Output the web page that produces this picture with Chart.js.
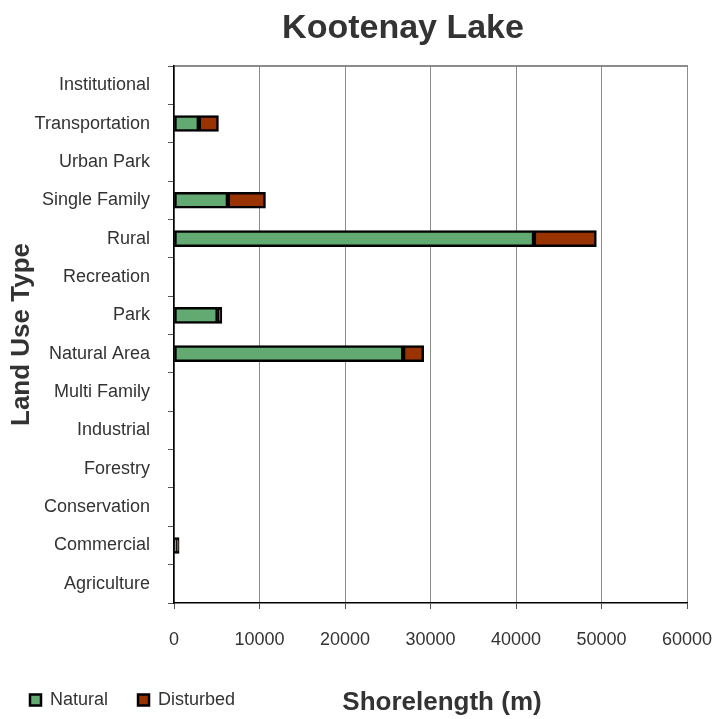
<!DOCTYPE html>
<html>
<head>
<meta charset="utf-8">
<script src="https://cdn.jsdelivr.net/npm/chart.js@4.4.1/dist/chart.umd.min.js"></script>
<style>
  html, body { margin: 0; padding: 0; background: #fff; }
  #wrap { width: 713px; height: 719px; }
</style>
</head>
<body>
<div id="wrap"><canvas id="chart"></canvas></div>
<script>
// === Data (bottom to top) ===
const categories = ['Agriculture', 'Commercial', 'Conservation', 'Forestry', 'Industrial',
  'Multi Family', 'Natural Area', 'Park', 'Recreation', 'Rural', 'Single Family',
  'Urban Park', 'Transportation', 'Institutional'];
const natural   = [0, 300, 0, 0, 0, 0, 26800, 5100, 0, 42100, 6300, 0, 2900, 0];
const disturbed = [0, 300, 0, 0, 0, 0, 2400, 500, 0, 7300, 4400, 0, 2300, 0];
const xTicks = [0, 10000, 20000, 30000, 40000, 50000, 60000];

const chartTitle = 'Kootenay Lake';
const xTitle = 'Shorelength (m)';
const yTitle = 'Land Use Type';

const FONT = "'Liberation Sans', Arial, sans-serif";
const TEXT = '#333333';

// titles drawn on top of the canvas
const titlesPlugin = {
  id: 'titles',
  afterDraw(chart) {
    const ctx = chart.ctx;
    ctx.save();
    ctx.fillStyle = TEXT;
    ctx.textAlign = 'center';
    ctx.textBaseline = 'middle';
    ctx.font = 'bold 34px ' + FONT;
    ctx.fillText(chartTitle, 403, 29);
    ctx.font = 'bold 26px ' + FONT;
    ctx.fillText(xTitle, 442, 703);
    ctx.restore();
  }
};

new Chart(document.getElementById('chart'), {
  type: 'bar',
  data: {
    labels: categories,
    datasets: [
      {
        label: 'Natural',
        data: natural,
        backgroundColor: '#62AA72',
        borderColor: '#000000',
        borderWidth: 2.5,
        borderSkipped: false,
        barThickness: 16
      },
      {
        label: 'Disturbed',
        data: disturbed,
        backgroundColor: '#993300',
        borderColor: '#000000',
        borderWidth: 2.5,
        borderSkipped: false,
        barThickness: 16
      }
    ]
  },
  options: {
    indexAxis: 'y',
    responsive: true,
    maintainAspectRatio: false,
    animation: false,
    layout: { padding: { top: 66, right: 26, left: 0, bottom: 0 } },
    plugins: {
      title: { display: false },
      tooltip: { enabled: false },
      legend: {
        position: 'bottom',
        align: 'start',
        labels: {
          font: { family: FONT, size: 18 },
          color: TEXT,
          boxWidth: 11,
          boxHeight: 11,
          padding: 30
        }
      }
    },
    scales: {
      x: {
        stacked: true,
        min: 0,
        max: 60000,
        afterBuildTicks: s => { s.ticks = xTicks.map(v => ({ value: v })); },
        afterFit: s => { s.height = 58; s.paddingRight = 0; s.paddingLeft = 0; },
        ticks: {
          font: { family: FONT, size: 18 },
          color: TEXT,
          padding: 20,
          callback: v => String(v)
        },
        grid: { color: '#8c8c8c', lineWidth: 1, tickLength: 6, tickColor: '#555' },
        border: { color: '#000000', width: 1.5 }
      },
      x2: {
        position: 'top',
        min: 0,
        max: 60000,
        afterFit: s => { s.height = 0; s.paddingRight = 0; s.paddingLeft = 0; },
        ticks: { display: false },
        grid: { display: false },
        border: { color: '#8c8c8c', width: 2 }
      },
      y: {
        stacked: true,
        reverse: true,
        afterFit: s => { s.width = 174; },
        ticks: {
          font: { family: FONT, size: 18 },
          color: TEXT,
          padding: 18
        },
        grid: { drawOnChartArea: false, tickLength: 6, tickColor: '#555', offset: true },
        border: { color: '#000000', width: 1.5 },
        title: {
          display: true,
          text: yTitle,
          font: { family: FONT, size: 26, weight: 'bold' },
          color: TEXT,
          padding: { top: 6, bottom: 0 }
        }
      }
    }
  },
  plugins: [titlesPlugin]
});
</script>
</body>
</html>
